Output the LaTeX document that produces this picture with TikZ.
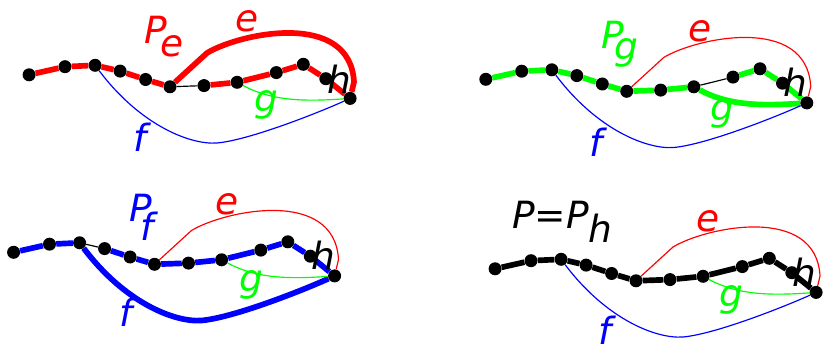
\documentclass[tikz,border=0pt]{standalone}
\usepackage{fontspec}
\setmainfont{DejaVu Sans}
\usetikzlibrary{backgrounds}

\tikzset{
  dot/.style={circle, fill=black, inner sep=0pt, minimum size=3.9mm},
  heavy/.style={line width=1.7mm, line join=round},
  light/.style={line width=1pt},
  lab/.style={font=\fontsize{32}{36}\selectfont\itshape, inner sep=0pt, anchor=base},
}

% the twelve vertices of the walk (panel coordinates)
\newcommand\walk[1]{%
  \foreach \p [count=\i] in {(29.1,74.8),(65,66.7),(95.1,65.3),(120.1,71.1),(145.6,79.5),(170,86.8),
      (204,85.6),(237.1,82.3),(276.3,72.6),(303.3,64.3),(325.8,78.7),(350.1,98.4)}
    \node[dot] (#1\i) at \p {};}
% the three detours
\newcommand\ecurve[2]{(#1) -- (207,53) .. controls (240,33) and (350,10) .. (354,82) -- (#2)}
\newcommand\fcurve[2]{(#1) .. controls (140,125) and (190,145) .. (217,143) .. controls (250,140) and (320,112) .. (#2)}
\newcommand\gcurve[2]{(#1) .. controls (270,100) and (300,102) .. (#2)}

\begin{document}
\begin{tikzpicture}[x=0.03cm, y=-0.03cm]
  \useasboundingbox (0,0) rectangle (823,346);

  % P_e
  \begin{scope}
    \walk{a}
    \begin{scope}[on background layer]
      \draw[heavy, red] (a1) -- (a2) -- (a3) -- (a4) -- (a5) -- (a6);
      \draw[heavy, red] (a7) -- (a8) -- (a9) -- (a10) -- (a11) -- (a12);
      \draw[heavy, red] \ecurve{a6}{a12};
      \draw[light] (a6) -- (a7);
      \draw[light, blue] \fcurve{a3}{a12};
      \draw[light, green] \gcurve{a8}{a12};
    \end{scope}
  \end{scope}

  % P_g
  \begin{scope}[shift={(456.7,4.5)}]
    \walk{b}
    \begin{scope}[on background layer]
      \draw[heavy, green] (b1) -- (b2) -- (b3) -- (b4) -- (b5) -- (b6) -- (b7) -- (b8);
      \draw[heavy, green] (b9) -- (b10) -- (b11) -- (b12);
      \draw[heavy, green] \gcurve{b8}{b12};
      \draw[light] (b8) -- (b9);
      \draw[light, red] \ecurve{b6}{b12};
      \draw[light, blue] \fcurve{b3}{b12};
    \end{scope}
  \end{scope}

  % P_f
  \begin{scope}[shift={(-15.5,177.5)}]
    \walk{c}
    \begin{scope}[on background layer]
      \draw[heavy, blue] (c1) -- (c2) -- (c3);
      \draw[heavy, blue] (c4) -- (c5) -- (c6) -- (c7) -- (c8) -- (c9) -- (c10) -- (c11) -- (c12);
      \draw[heavy, blue] \fcurve{c3}{c12};
      \draw[light] (c3) -- (c4);
      \draw[light, red] \ecurve{c6}{c12};
      \draw[light, green] \gcurve{c8}{c12};
    \end{scope}
  \end{scope}

  % P = P_h
  \begin{scope}[shift={(466,194)}]
    \walk{d}
    \begin{scope}[on background layer]
      \draw[heavy] (d1) -- (d2) -- (d3) -- (d4) -- (d5) -- (d6) -- (d7) -- (d8) -- (d9) -- (d10) -- (d11) -- (d12);
      \draw[light, red] \ecurve{d6}{d12};
      \draw[light, blue] \fcurve{d3}{d12};
      \draw[light, green] \gcurve{d8}{d12};
    \end{scope}
  \end{scope}

  % labels
  \node[lab, red, anchor=base west] (Pe) at (144,43.3) {P\kern-0.18em\raisebox{-0.35em}{e}};
  \node[lab, red] (ea) at (247.5,31.7) {e};
  \node[lab, green] (ga) at (266,112) {g};
  \node[lab, blue] (fa) at (140,151.7) {f};
  \node[lab] (ha) at (339,93.3) {h};

  \node[lab, green, anchor=base west] (Pg) at (601,48.3) {P\kern-0.26em\raisebox{-0.3em}{g}};
  \node[lab, red] (eb) at (700,41.7) {e};
  \node[lab, green] (gb) at (722.5,121) {g};
  \node[lab, blue] (fb) at (596,156.7) {f};
  \node[lab] (hb) at (795,96.7) {h};

  \node[lab, blue, anchor=base west] (Pf) at (129,221.7) {P\kern-0.3em\raisebox{-0.5em}{f}};
  \node[lab, red] (ec) at (227.5,215) {e};
  \node[lab, green] (gc) at (251,291) {g};
  \node[lab, blue] (fc) at (126,326.7) {f};
  \node[lab] (hc) at (323,270) {h};

  \node[lab, anchor=base west] (Ph) at (512,228.3) {P=P\raisebox{-0.38em}{h}};
  \node[lab, red] (ed) at (708,232) {e};
  \node[lab, green] (gd) at (731.7,306) {g};
  \node[lab, blue] (fd) at (605,344.5) {f};
  \node[lab] (hd) at (804,286.7) {h};
\end{tikzpicture}
\end{document}
